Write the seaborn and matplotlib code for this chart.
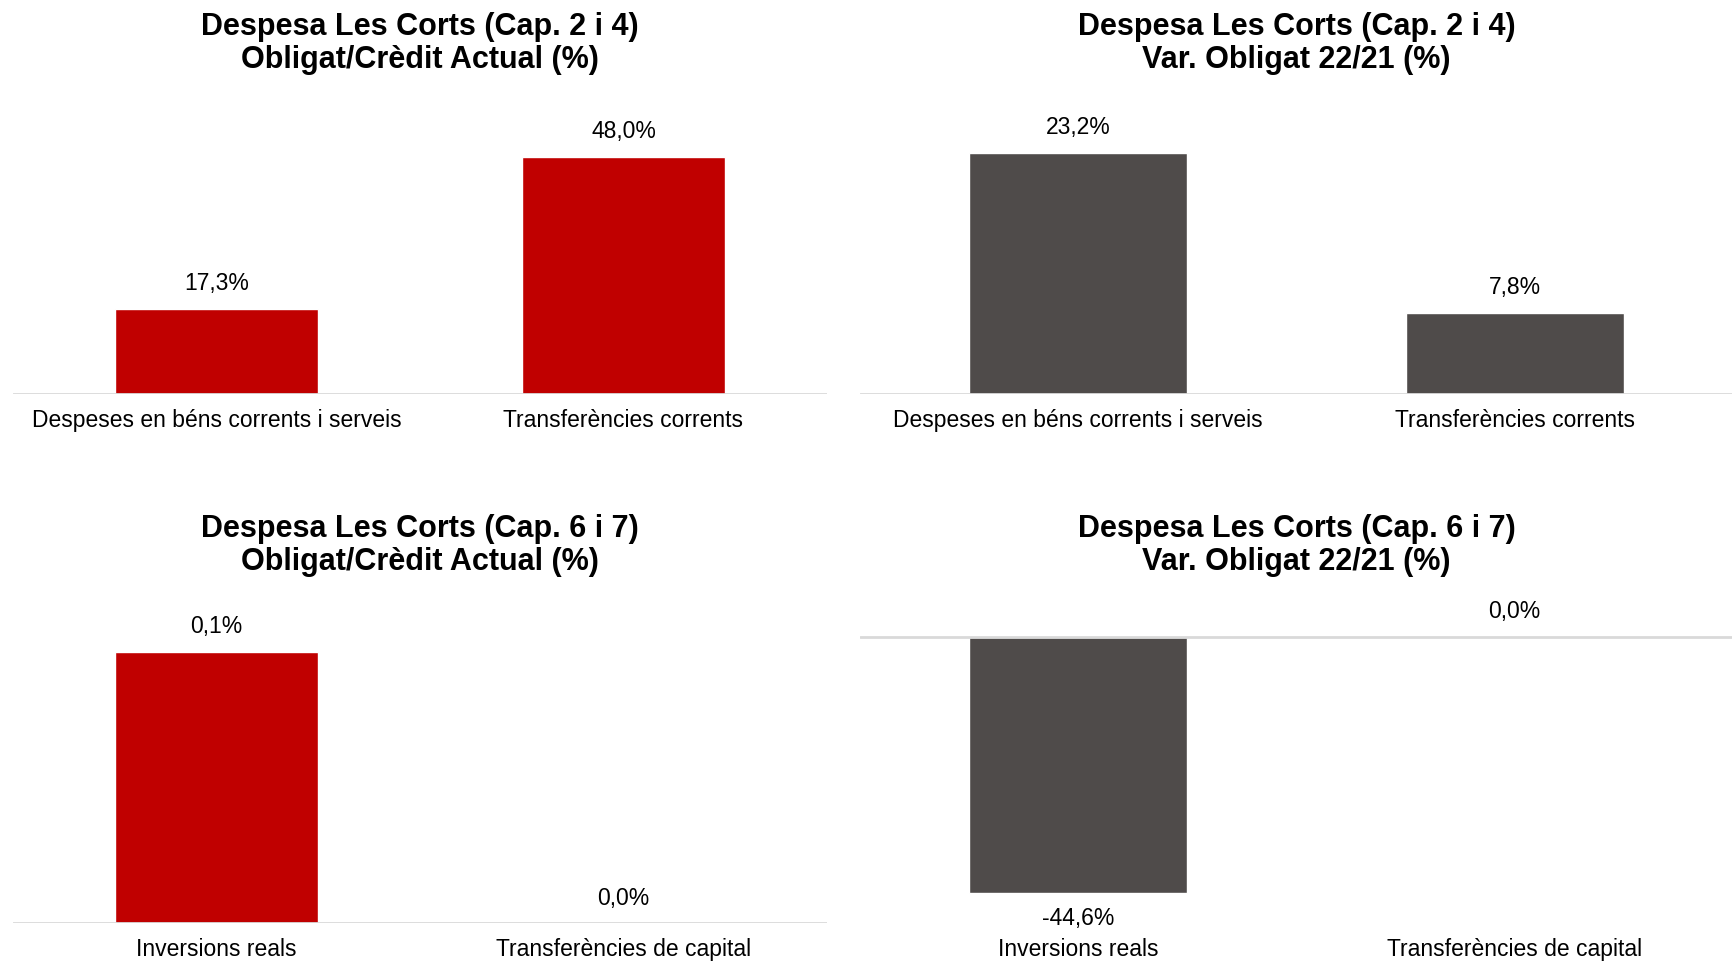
import matplotlib
matplotlib.use("Agg")
import matplotlib.pyplot as plt
import seaborn as sns

sns.set_theme(style="white")
plt.rcParams["font.family"] = ["Liberation Sans", "DejaVu Sans"]

# Capítols 2 i 4
cats_cap24 = ["Despeses en béns corrents i serveis", "Transferències corrents"]
ratio_cap24 = [17.3, 48.0]
var_cap24 = [23.2, 7.8]

# Capítols 6 i 7
cats_cap67 = ["Inversions reals", "Transferències de capital"]
ratio_cap67 = [0.1, 0.0]
var_cap67 = [-44.6, 0.0]

titles = [
    "Despesa Les Corts (Cap. 2 i 4)\nObligat/Crèdit Actual (%)",
    "Despesa Les Corts (Cap. 2 i 4)\nVar. Obligat 22/21 (%)",
    "Despesa Les Corts (Cap. 6 i 7)\nObligat/Crèdit Actual (%)",
    "Despesa Les Corts (Cap. 6 i 7)\nVar. Obligat 22/21 (%)",
]

RED = "#C00000"
GREY = "#4F4B4A"
LINE = "#D9D9D9"

W, H = 1733, 961
fig = plt.figure(figsize=(W / 100, H / 100), dpi=100)
fig.patch.set_facecolor("white")


def px_axes(left, right, bottom, top):
    return fig.add_axes([left / W, 1 - bottom / H, (right - left) / W, (bottom - top) / H])


panels = [
    dict(rect=(13, 827, 394, 100), cats=cats_cap24, vals=ratio_cap24, color=RED, ylim=(0, 59.5)),
    dict(rect=(860, 1733, 394, 100), cats=cats_cap24, vals=var_cap24, color=GREY, ylim=(0, 28.3)),
    dict(rect=(13, 827, 923, 630), cats=cats_cap67, vals=ratio_cap67, color=RED, ylim=(0, 0.108)),
    dict(rect=(860, 1733, 923, 630), cats=cats_cap67, vals=var_cap67, color=GREY, ylim=(-49.8, 1.2)),
]

title_y = [43.5, 43.5, 545.5, 545.5]

for i, p in enumerate(panels):
    ax = px_axes(*p["rect"])
    sns.barplot(x=p["cats"], y=p["vals"], color=p["color"], saturation=1, width=0.5, ax=ax)
    ax.set_xlim(-0.5, 1.5)
    ax.set_ylim(*p["ylim"])
    ax.axhline(0, color=LINE, lw=2, zorder=3)
    for s in ax.spines.values():
        s.set_visible(False)
    ax.set_yticks([])
    ax.tick_params(axis="x", length=0, pad=11, labelsize=16.5, labelcolor="black")
    ax.set_xlabel("")
    ax.set_ylabel("")
    ax.set_facecolor("white")

    # value labels above positive bars, below negative ones
    for xpos, v in enumerate(p["vals"]):
        label = f"{v:.1f}%".replace(".", ",")
        off = -18 if v < 0 else 18
        ax.annotate(label, xy=(xpos, v), xytext=(0, off), textcoords="offset points",
                    ha="center", va="center", fontsize=16.5, color="black", annotation_clip=False)

    left, right = p["rect"][0], p["rect"][1]
    fig.text(((left + right) / 2) / W, 1 - title_y[i] / H, titles[i], ha="center", va="center",
             fontsize=22, fontweight="bold", linespacing=1.14, color="black")

fig.savefig("out.png", dpi=100, facecolor="white")
